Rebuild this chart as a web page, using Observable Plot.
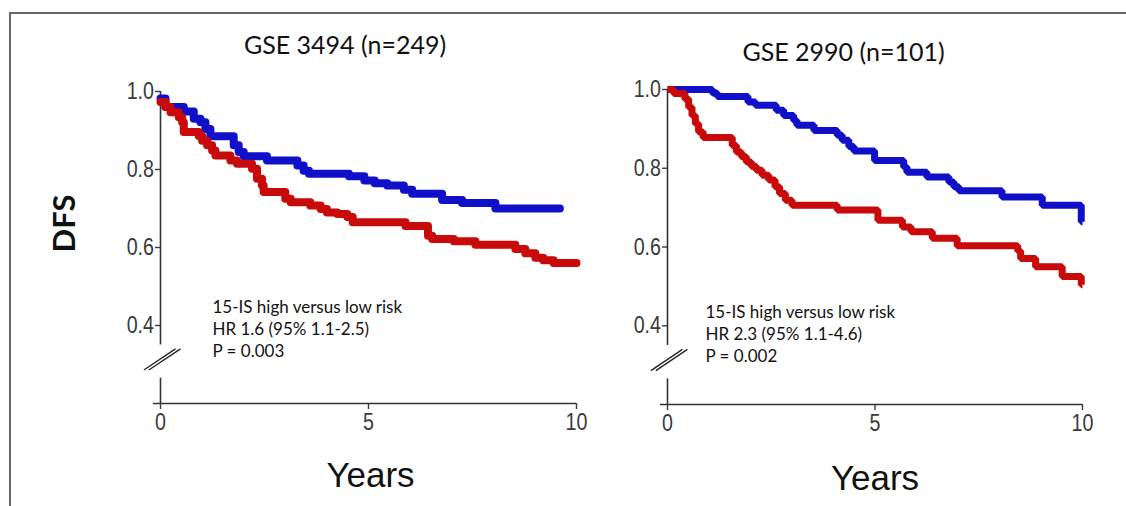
<!DOCTYPE html>
<html><head><meta charset="utf-8">
<script src="https://cdn.jsdelivr.net/npm/d3@7"></script>
<script src="https://cdn.jsdelivr.net/npm/@observablehq/plot@0.6"></script>
<style>
body{margin:0;background:#fff;}
#wrap{position:relative;width:1126px;height:506px;overflow:hidden;background:#fff;}
#frame{position:absolute;left:9px;top:12px;width:1300px;height:700px;border-top:2px solid #666;border-left:2px solid #666;}
.panel{position:absolute;top:0;}
</style></head><body>
<div id="wrap"><div id="frame"></div><div id="p1" class="panel" style="left:0"></div><div id="p2" class="panel" style="left:600px"></div></div>
<script>
// ---- data ----
const groups = ["low risk", "high risk"];
const groupColors = ["#1010c8", "#c80a0a"];
const xTicks = [0, 5, 10];
const yTicks = [0.4, 0.6, 0.8, 1.0];
const titles = ["GSE 3494 (n=249)", "GSE 2990 (n=101)"];
const annot3494 = ["15-IS high versus low risk", "HR 1.6 (95% 1.1-2.5)", "P = 0.003"];
const annot2990 = ["15-IS high versus low risk", "HR 2.3 (95% 1.1-4.6)", "P = 0.002"];

// GSE 3494 low risk (blue)
const g3494LowT = [0, 0.12, 0.56, 0.80, 0.96, 1.08, 1.2, 1.76, 1.88, 2.0, 2.56, 3.29, 3.44, 3.57, 4.53, 4.9, 5.15, 5.45, 5.85, 6.05, 6.77, 7.25, 8.05, 9.6];
const g3494LowS = [0.982, 0.96, 0.949, 0.93, 0.921, 0.904, 0.885, 0.862, 0.845, 0.834, 0.823, 0.81, 0.797, 0.789, 0.783, 0.772, 0.765, 0.759, 0.748, 0.738, 0.722, 0.714, 0.70, 0.70];
// GSE 3494 high risk (red)
const g3494HighT = [0, 0.12, 0.24, 0.44, 0.52, 0.56, 0.92, 1.0, 1.12, 1.24, 1.32, 1.68, 1.84, 2.2, 2.32, 2.44, 2.48, 3.0, 3.13, 3.6, 3.85, 4.0, 4.25, 4.49, 4.62, 5.89, 6.43, 6.53, 7.05, 7.57, 8.53, 8.77, 9.01, 9.2, 9.45, 10];
const g3494HighS = [0.973, 0.96, 0.947, 0.934, 0.921, 0.896, 0.886, 0.874, 0.862, 0.849, 0.836, 0.823, 0.815, 0.802, 0.776, 0.759, 0.742, 0.725, 0.716, 0.708, 0.699, 0.69, 0.686, 0.678, 0.665, 0.655, 0.63, 0.622, 0.616, 0.607, 0.596, 0.585, 0.574, 0.567, 0.56, 0.56];
// GSE 2990 low risk (blue)
const g2990LowT = [0, 1.08, 1.2, 1.94, 2.12, 2.62, 2.8, 3.04, 3.12, 3.53, 4.09, 4.21, 4.37, 4.49, 4.99, 5.69, 5.77, 6.25, 6.78, 6.9, 7.02, 8.06, 9.03, 9.97, 10];
const g2990LowS = [1.0, 0.991, 0.982, 0.968, 0.96, 0.947, 0.934, 0.921, 0.909, 0.896, 0.884, 0.871, 0.855, 0.844, 0.82, 0.803, 0.79, 0.778, 0.765, 0.753, 0.743, 0.727, 0.706, 0.664, 0.664];
// GSE 2990 high risk (red)
const g2990HighT = [0, 0.15, 0.42, 0.51, 0.59, 0.67, 0.75, 0.86, 1.56, 1.66, 1.78, 1.9, 2.02, 2.14, 2.28, 2.44, 2.59, 2.7, 2.84, 3.0, 4.09, 5.07, 5.66, 5.87, 6.38, 6.98, 8.44, 8.51, 8.87, 9.51, 9.97, 10];
const g2990HighS = [1.0, 0.99, 0.976, 0.955, 0.934, 0.913, 0.892, 0.878, 0.858, 0.841, 0.829, 0.816, 0.805, 0.795, 0.782, 0.77, 0.753, 0.736, 0.719, 0.706, 0.694, 0.668, 0.651, 0.639, 0.622, 0.603, 0.59, 0.571, 0.55, 0.525, 0.504, 0.504];

// axis decoration: y axis drawn from floor, broken between these values
const yFloor = 0.2;
const yBreak = [0.265, 0.35];

function rows(T, S, g) { return T.map((t, i) => ({t, s: S[i], group: g})); }

const sans = "'Liberation Sans', Arial, sans-serif";
const humanist = "Lato, 'Open Sans', sans-serif";

function panel(cfg) {
  const data = [...rows(cfg.lowT, cfg.lowS, groups[0]), ...rows(cfg.highT, cfg.highS, groups[1])];
  const ySegs = [{y1: yFloor, y2: yBreak[0]}, {y1: yBreak[1], y2: d3.max(yTicks)}];
  const svg = Plot.plot({
    width: cfg.width, height: 506,
    marginLeft: cfg.ml, marginRight: cfg.mr, marginTop: cfg.mt, marginBottom: cfg.mb,
    x: {domain: [0, 10]},
    y: {domain: [yFloor, 1.0]},
    color: {domain: groups, range: groupColors},
    style: {background: "transparent", color: "#3a3a3a", fontFamily: sans, overflow: "visible"},
    marks: [
      Plot.ruleX(ySegs, {x: () => 0, y1: "y1", y2: "y2", stroke: "#333", strokeWidth: 1.6}),
      Plot.ruleY([yFloor], {x1: () => -0.17, x2: () => 10, stroke: "#333", strokeWidth: 1.6}),
      Plot.link([0, 1], {x1: i => -0.4 + i * 0.12, x2: i => 0.36 + i * 0.12, y1: () => 0.286, y2: () => 0.34, stroke: "#222", strokeWidth: 1.3}),
      Plot.axisY({ticks: yTicks, tickFormat: d3.format(".1f"), tickSize: 5, tickPadding: 1.5, fontSize: 24, label: null, strokeWidth: 1.4}),
      Plot.axisX({ticks: xTicks, tickFormat: d3.format("d"), tickSize: 6, tickPadding: 3, fontSize: 24, label: null, strokeWidth: 1.4}),
      Plot.line(data, {x: "t", y: "s", z: "group", stroke: "group", curve: "step-after", strokeWidth: cfg.sw, strokeLinecap: cfg.cap, strokeLinejoin: cfg.cap === "round" ? "round" : "miter"}),
      Plot.text([cfg.title], {text: d => d, frameAnchor: "top", textAnchor: "middle", lineAnchor: "middle", dx: cfg.titleDx, dy: cfg.titleDy, fontSize: 25, fontFamily: humanist, fill: "#111"}),
      Plot.text([cfg.annot.join("\n")], {text: d => d, frameAnchor: "top-left", dx: cfg.annDx, dy: cfg.annDy, textAnchor: "start", lineAnchor: "top", lineHeight: 1.3, fontSize: 17, fontFamily: humanist, fill: "#111"}),
      Plot.text(["Years"], {text: d => d, ariaLabel: "narrow", frameAnchor: "bottom", textAnchor: "middle", lineAnchor: "middle", dx: cfg.yearsDx, dy: cfg.yearsDy, fontSize: 35, fill: "#111"}),
      ...(cfg.dfs ? [Plot.text(["DFS"], {text: d => d, frameAnchor: "left", textAnchor: "middle", lineAnchor: "middle", dx: -95, dy: -24, rotate: -90, fontSize: 31, fontWeight: "bold", fontFamily: humanist, fill: "#111"})] : [])
    ]
  });
  // emulate the narrow (Arial Narrow-like) face of the axis labels
  svg.querySelectorAll('g[aria-label$="tick label"] text, g[aria-label="narrow"] text').forEach(t => {
    const tr = t.getAttribute("transform");
    if (tr) {
      t.setAttribute("transform", tr + " scale(0.82,1)");
    } else {
      const x = +(t.getAttribute("x") || 0), y = +(t.getAttribute("y") || 0);
      t.removeAttribute("x"); t.removeAttribute("y");
      t.setAttribute("transform", `translate(${x},${y}) scale(0.82,1)`);
    }
  });
  return svg;
}

document.getElementById("p1").appendChild(panel({
  width: 600, ml: 160, mr: 24, mt: 91, mb: 103, sw: 8, cap: "round",
  lowT: g3494LowT, lowS: g3494LowS, highT: g3494HighT, highS: g3494HighS,
  title: titles[0], titleDx: -23.5, titleDy: -46,
  annot: annot3494, annDx: 52, annDy: 206,
  yearsDx: 2, yearsDy: 72, dfs: true
}));
document.getElementById("p2").appendChild(panel({
  width: 526, ml: 67, mr: 44, mt: 89, mb: 102, sw: 7, cap: "butt",
  lowT: g2990LowT, lowS: g2990LowS, highT: g2990HighT, highS: g2990HighS,
  title: titles[1], titleDx: -31.5, titleDy: -37,
  annot: annot2990, annDx: 38, annDy: 213,
  yearsDx: 0, yearsDy: 74, dfs: false
}));
</script>
</body></html>
